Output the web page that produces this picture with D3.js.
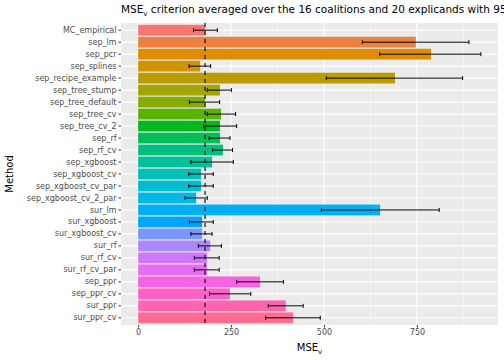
<!DOCTYPE html>
<html>
<head>
<meta charset="utf-8">
<script src="https://cdn.jsdelivr.net/npm/d3@7"></script>
<style>
  body { margin: 0; background: #fff; }
  svg { display: block; }
  text { font-family: "DejaVu Sans", sans-serif; }
</style>
</head>
<body>
<svg id="chart" width="504" height="360"></svg>
<script>
const methods = ["MC_empirical","sep_lm","sep_pcr","sep_splines","sep_recipe_example","sep_tree_stump","sep_tree_default","sep_tree_cv","sep_tree_cv_2","sep_rf","sep_rf_cv","sep_xgboost","sep_xgboost_cv","sep_xgboost_cv_par","sep_xgboost_cv_2_par","sur_lm","sur_xgboost","sur_xgboost_cv","sur_rf","sur_rf_cv","sur_rf_cv_par","sep_ppr","sep_ppr_cv","sur_ppr","sur_ppr_cv"];
const mse   = [180, 747, 788, 167, 691, 220, 180, 223, 220, 220, 228, 199, 169, 169, 156, 651, 172, 172, 194, 185, 185, 328, 247, 397, 417];
const lower = [149, 603, 650, 137, 506, 186, 138, 186, 176, 191, 200, 142, 136, 136, 126, 493, 138, 142, 162, 151, 151, 265, 192, 350, 343];
const upper = [213, 890, 922, 195, 873, 251, 219, 262, 265, 247, 254, 256, 202, 202, 186, 810, 202, 199, 224, 218, 218, 391, 303, 444, 490];
const xTicks = [0, 250, 500, 750];
const xMinor = [125, 375, 625, 875];
const referenceValue = mse[0];

// ggplot2 hue palette (polar LUV -> sRGB)
function hclLuv(h, c, l) {
  const Xn = 95.047, Yn = 100.0, Zn = 108.883;
  const hr = h * Math.PI / 180;
  const U = c * Math.cos(hr), V = c * Math.sin(hr);
  const Y = l > 7.999592 ? Yn * Math.pow((l + 16) / 116, 3) : Yn * l / 903.3;
  const t = Xn + Yn + Zn;
  const x = Xn / t, y = Yn / t;
  const un = 2 * x / (6 * y - x + 1.5);
  const vn = 4.5 * y / (6 * y - x + 1.5);
  const u = U / (13 * l) + un, v = V / (13 * l) + vn;
  const X = 9.0 * Y * u / (4 * v);
  const Z = -X / 3 - 5 * Y + 3 * Y / v;
  const gam = q => q > 0.00304 ? 1.055 * Math.pow(q, 1 / 2.4) - 0.055 : 12.92 * q;
  const Xs = X / 100, Ys = Y / 100, Zs = Z / 100;
  let r = gam(3.240479 * Xs - 1.537150 * Ys - 0.498535 * Zs);
  let g = gam(-0.969256 * Xs + 1.875992 * Ys + 0.041556 * Zs);
  let b = gam(0.055648 * Xs - 0.204043 * Ys + 1.057311 * Zs);
  const cl = q => Math.round(255 * Math.max(0, Math.min(1, q)));
  return d3.rgb(cl(r), cl(g), cl(b)).formatHex();
}
const n = methods.length;
const palette = methods.map((m, i) => hclLuv(15 + i * 360 / n, 100, 65));
const color = d3.scaleOrdinal().domain(methods).range(palette);

const svg = d3.select("#chart");
const P = { left: 121, right: 498, top: 23, bottom: 325 };

const dmax = d3.max(upper), dmin = 0;
const ex = (dmax - dmin) * 0.05;
const x = d3.scaleLinear().domain([dmin - ex, dmax + ex]).range([P.left, P.right]);
const y = d3.scaleBand().domain(methods).range([P.top, P.bottom]).paddingInner(0.1).paddingOuter(0.15);

// panel
svg.append("rect").attr("x", P.left).attr("y", P.top)
  .attr("width", P.right - P.left).attr("height", P.bottom - P.top).attr("fill", "#EBEBEB");

const grid = svg.append("g");
grid.selectAll(".minor").data(xMinor).join("line")
  .attr("x1", d => x(d)).attr("x2", d => x(d)).attr("y1", P.top).attr("y2", P.bottom)
  .attr("stroke", "#fff").attr("stroke-width", 0.55);
grid.selectAll(".majx").data(xTicks).join("line")
  .attr("x1", d => x(d)).attr("x2", d => x(d)).attr("y1", P.top).attr("y2", P.bottom)
  .attr("stroke", "#fff").attr("stroke-width", 1.1);
grid.selectAll(".majy").data(methods).join("line")
  .attr("x1", P.left).attr("x2", P.right)
  .attr("y1", d => y(d) + y.bandwidth() / 2).attr("y2", d => y(d) + y.bandwidth() / 2)
  .attr("stroke", "#fff").attr("stroke-width", 1.1);

// bars
svg.append("g").selectAll("rect").data(methods).join("rect")
  .attr("x", x(0)).attr("y", d => y(d))
  .attr("width", (d, i) => x(mse[i]) - x(0)).attr("height", y.bandwidth())
  .attr("fill", d => color(d));

// reference dashed line
svg.append("line")
  .attr("x1", x(referenceValue)).attr("x2", x(referenceValue))
  .attr("y1", P.top).attr("y2", P.bottom)
  .attr("stroke", "#000").attr("stroke-width", 1.1).attr("stroke-dasharray", "4,4");

// error bars
const eb = svg.append("g").attr("stroke", "#000").attr("stroke-width", 1);
methods.forEach((m, i) => {
  const cy = y(m) + y.bandwidth() / 2;
  const g = eb.append("g");
  g.append("line").attr("x1", x(lower[i])).attr("x2", x(upper[i])).attr("y1", cy).attr("y2", cy);
  g.append("line").attr("x1", x(lower[i])).attr("x2", x(lower[i])).attr("y1", cy - 2).attr("y2", cy + 2);
  g.append("line").attr("x1", x(upper[i])).attr("x2", x(upper[i])).attr("y1", cy - 2).attr("y2", cy + 2);
});

// axes
const xAxis = svg.append("g").attr("transform", `translate(0,${P.bottom})`)
  .call(d3.axisBottom(x).tickValues(xTicks).tickSize(2.5).tickPadding(2));
const yAxis = svg.append("g").attr("transform", `translate(${P.left},0)`)
  .call(d3.axisLeft(y).tickSize(2.5).tickPadding(2));
[xAxis, yAxis].forEach(a => {
  a.select(".domain").remove();
  a.selectAll(".tick line").attr("stroke", "#333333").attr("stroke-width", 1);
  a.selectAll(".tick text").attr("fill", "#4D4D4D").style("font-size", "8px")
    .style("font-family", '"DejaVu Sans", sans-serif');
});

// axis titles
const xt = svg.append("text").attr("x", (P.left + P.right) / 2).attr("y", 351)
  .attr("text-anchor", "middle").style("font-size", "10px").attr("fill", "#000");
xt.append("tspan").text("MSE");
xt.append("tspan").attr("dy", 2.5).style("font-size", "7px").text("v");

svg.append("text").attr("transform", `translate(13,${(P.top + P.bottom) / 2}) rotate(-90)`)
  .attr("text-anchor", "middle").style("font-size", "10px").attr("fill", "#000").text("Method");

// title (clipped at the right edge, as in the reference)
const tt = svg.append("text").attr("x", P.left).attr("y", 13)
  .style("font-size", "10.5px").attr("fill", "#000");
tt.append("tspan").text("MSE");
tt.append("tspan").attr("dy", 2.5).style("font-size", "7px").text("v");
tt.append("tspan").attr("dy", -2.5).text(" criterion averaged over the 16 coalitions and 20 explicands with 95% confidence intervals");
</script>
</body>
</html>
